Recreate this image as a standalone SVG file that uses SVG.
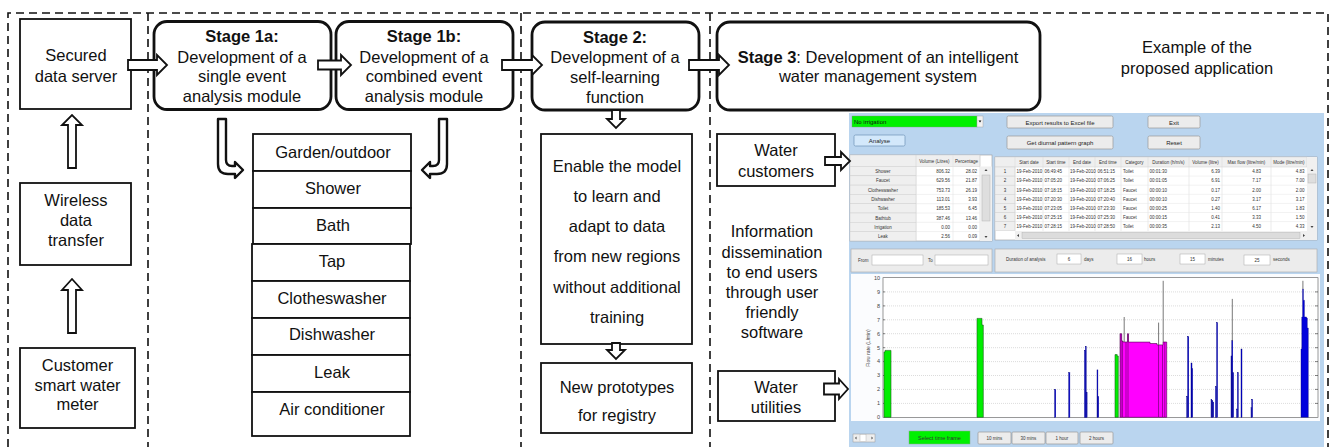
<svg xmlns="http://www.w3.org/2000/svg" width="1331" height="447" viewBox="0 0 1331 447">
<style>
.t{font-family:"Liberation Sans",Arial,sans-serif;font-size:16.5px;fill:#111;text-anchor:middle}
.b{font-weight:bold}
.box{fill:#fff;stroke:#111;stroke-width:1.8}
.stage{fill:#fff;stroke:#111;stroke-width:2.8}
.frame{fill:none;stroke:#111;stroke-width:1.6;stroke-dasharray:8 5}
.arr{fill:#fff;stroke:#111;stroke-width:1.8;stroke-linejoin:miter}
.bent{fill:#fff;stroke:#111;stroke-width:2.4;stroke-linejoin:round}
.s{font-family:"Liberation Sans",Arial,sans-serif;font-size:4.5px;fill:#333}
.sm{text-anchor:middle}
.se{text-anchor:end}
.btn{fill:#ececec;stroke:#9a9a9a;stroke-width:0.7}
.bt{font-family:"Liberation Sans",Arial,sans-serif;font-size:6px;fill:#222;text-anchor:middle}
.cell{fill:#fff;stroke:#dcdcdc;stroke-width:0.5}
.hcell{fill:#efefef;stroke:#cfcfcf;stroke-width:0.5}
.grid{stroke:#b8b8b8;stroke-width:0.5;stroke-dasharray:1 1}
.blue{fill:#0000dd;stroke:#00007a;stroke-width:0.4}
.green{fill:#00ee00;stroke:#1b5e1b;stroke-width:0.6}
.spike{stroke:#555;stroke-width:0.8}
</style>

<!-- dashed section frames -->
<g id="frames">
  <path class="frame" d="M8,447 V13 H1328 V447"/>
  <path class="frame" d="M148,13 V447"/>
  <path class="frame" d="M521,13 V447"/>
  <path class="frame" d="M710,13 V447"/>
</g>

<!-- data acquisition column -->
<g id="secured-data-server">
  <rect class="box" x="20" y="19" width="111" height="90"/>
  <text class="t" x="76" y="61">Secured</text>
  <text class="t" x="76" y="82">data server</text>
</g>
<g id="wireless-data-transfer">
  <rect class="box" x="20" y="183" width="111" height="82"/>
  <text class="t" x="76" y="206">Wireless</text>
  <text class="t" x="76" y="226">data</text>
  <text class="t" x="76" y="246">transfer</text>
</g>
<g id="customer-meter">
  <rect class="box" x="20" y="348" width="115" height="80"/>
  <text class="t" x="77.5" y="371">Customer</text>
  <text class="t" x="77.5" y="391">smart water</text>
  <text class="t" x="77.5" y="410">meter</text>
</g>

<!-- stage boxes -->
<g id="stage-1a">
  <rect class="stage" x="154" y="21.5" width="177" height="88" rx="13"/>
  <text class="t b" x="242" y="42">Stage 1a:</text>
  <text class="t" x="242" y="63">Development of a</text>
  <text class="t" x="242" y="82">single event</text>
  <text class="t" x="242" y="102">analysis module</text>
</g>
<g id="stage-1b">
  <rect class="stage" x="336" y="21.5" width="177" height="88" rx="13"/>
  <text class="t b" x="424" y="42">Stage 1b:</text>
  <text class="t" x="424" y="63">Development of a</text>
  <text class="t" x="424" y="82">combined event</text>
  <text class="t" x="424" y="102">analysis module</text>
</g>
<g id="stage-2">
  <rect class="stage" x="532" y="22" width="167" height="88" rx="13"/>
  <text class="t b" x="615" y="43">Stage 2:</text>
  <text class="t" x="615" y="63">Development of a</text>
  <text class="t" x="615" y="83">self-learning</text>
  <text class="t" x="615" y="103">function</text>
</g>
<g id="stage-3">
  <rect class="stage" x="717" y="22" width="323" height="88" rx="13"/>
  <text class="t" x="878" y="63"><tspan class="b">Stage 3</tspan>: Development of an intelligent</text>
  <text class="t" x="878" y="82">water management system</text>
</g>
<g id="example-caption">
  <text class="t" x="1197" y="53">Example of the</text>
  <text class="t" x="1197" y="74">proposed application</text>
</g>

<!-- end-use categories -->
<g id="end-use-categories">
  <rect class="box" x="253" y="134" width="158" height="37"/>
  <text class="t" x="333" y="158">Garden/outdoor</text>
  <rect class="box" x="253" y="171" width="158" height="37"/>
  <text class="t" x="333" y="194">Shower</text>
  <rect class="box" x="253" y="208" width="158" height="36"/>
  <text class="t" x="333" y="231">Bath</text>
  <rect class="box" x="252" y="244" width="158" height="37"/>
  <text class="t" x="332" y="267">Tap</text>
  <rect class="box" x="252" y="281" width="158" height="37"/>
  <text class="t" x="332" y="304">Clotheswasher</text>
  <rect class="box" x="252" y="318" width="158" height="37"/>
  <text class="t" x="332" y="340">Dishwasher</text>
  <rect class="box" x="252" y="355" width="158" height="37"/>
  <text class="t" x="332" y="378">Leak</text>
  <rect class="box" x="252" y="392" width="158" height="44"/>
  <text class="t" x="332" y="415">Air conditioner</text>
</g>

<!-- self-learning outputs -->
<g id="self-learning-box">
  <rect class="box" x="541" y="134" width="151" height="210"/>
  <text class="t" x="617" y="172">Enable the model</text>
  <text class="t" x="617" y="202">to learn and</text>
  <text class="t" x="617" y="232">adapt to data</text>
  <text class="t" x="617" y="262">from new regions</text>
  <text class="t" x="617" y="293">without additional</text>
  <text class="t" x="617" y="323">training</text>
</g>
<g id="new-prototypes">
  <rect class="box" x="541" y="363" width="151" height="70"/>
  <text class="t" x="617" y="393">New prototypes</text>
  <text class="t" x="617" y="421">for registry</text>
</g>

<!-- end users -->
<g id="water-customers">
  <rect class="box" x="717" y="134" width="118" height="52"/>
  <text class="t" x="776" y="156">Water</text>
  <text class="t" x="776" y="177">customers</text>
</g>
<g id="information-dissemination">
  <text class="t" x="772" y="237">Information</text>
  <text class="t" x="772" y="258">dissemination</text>
  <text class="t" x="772" y="278">to end users</text>
  <text class="t" x="772" y="298">through user</text>
  <text class="t" x="772" y="318">friendly</text>
  <text class="t" x="772" y="338">software</text>
</g>
<g id="water-utilities">
  <rect class="box" x="718" y="371" width="117" height="50"/>
  <text class="t" x="776" y="393">Water</text>
  <text class="t" x="776" y="413">utilities</text>
</g>

<!-- application window -->
<g id="app-screenshot">
  <rect x="849" y="113" width="475" height="334" fill="#bad5ef"/>
  <!-- top controls -->
  <rect x="852" y="116" width="125" height="11" fill="#00f000" stroke="#7a9a7a" stroke-width="0.4"/>
  <rect x="977" y="116" width="6" height="11" fill="#f2f2f2" stroke="#9a9a9a" stroke-width="0.4"/>
  <path d="M978.6,120.5 h2.8 l-1.4,2 z" fill="#111"/>
  <text x="854" y="124" font-family="Liberation Sans, Arial, sans-serif" font-size="6" fill="#111">No irrigation</text>
  <rect x="854" y="135" width="51" height="11" rx="1.5" fill="#d3e8fb" stroke="#6f93b8" stroke-width="0.7"/>
  <text class="bt" x="879.5" y="143">Analyse</text>
  <rect class="btn" x="1007" y="116" width="106" height="12" rx="1.5"/>
  <text class="bt" x="1060" y="124.5">Export results to Excel file</text>
  <rect class="btn" x="1007" y="136" width="106" height="13" rx="1.5"/>
  <text class="bt" x="1060" y="145">Get diurnal pattern graph</text>
  <rect class="btn" x="1148" y="116" width="52" height="12" rx="1.5"/>
  <text class="bt" x="1174" y="124.5">Exit</text>
  <rect class="btn" x="1148" y="136" width="52" height="13" rx="1.5"/>
  <text class="bt" x="1174" y="145">Reset</text>

  <!-- summary table -->
  <rect x="850" y="155" width="142" height="86" fill="#fff" stroke="#9a9a9a" stroke-width="0.6"/>
  <rect class="hcell" x="850" y="155" width="130" height="11.5"/>
  <line x1="916" y1="155" x2="916" y2="241" stroke="#cfcfcf" stroke-width="0.5"/>
  <line x1="953" y1="155" x2="953" y2="241" stroke="#dcdcdc" stroke-width="0.5"/>
  <line x1="980" y1="155" x2="980" y2="241" stroke="#cfcfcf" stroke-width="0.5"/>
  <text class="s sm" x="934.5" y="163">Volume (Litres)</text>
  <text class="s sm" x="966.5" y="163">Percentage</text>
  <g>
    <rect class="hcell" x="850" y="166.5" width="66" height="9.3"/>
    <rect class="hcell" x="850" y="175.8" width="66" height="9.3"/>
    <rect class="hcell" x="850" y="185.1" width="66" height="9.3"/>
    <rect class="hcell" x="850" y="194.4" width="66" height="9.3"/>
    <rect class="hcell" x="850" y="203.7" width="66" height="9.3"/>
    <rect class="hcell" x="850" y="213" width="66" height="9.3"/>
    <rect class="hcell" x="850" y="222.3" width="66" height="9.3"/>
    <rect class="hcell" x="850" y="231.6" width="66" height="9.3"/>
    <path d="M916,175.8 H980 M916,185.1 H980 M916,194.4 H980 M916,203.7 H980 M916,213 H980 M916,222.3 H980 M916,231.6 H980" stroke="#e2e2e2" stroke-width="0.5"/>
  </g>
  <g class="s">
    <text class="sm" x="883" y="173">Shower</text>
    <text class="sm" x="883" y="182.3">Faucet</text>
    <text class="sm" x="883" y="191.6">Clotheswasher</text>
    <text class="sm" x="883" y="200.9">Dishwasher</text>
    <text class="sm" x="883" y="210.2">Toilet</text>
    <text class="sm" x="883" y="219.5">Bathtub</text>
    <text class="sm" x="883" y="228.8">Irrigation</text>
    <text class="sm" x="883" y="238.1">Leak</text>
    <text class="se" x="950" y="173">806.32</text>
    <text class="se" x="950" y="182.3">629.56</text>
    <text class="se" x="950" y="191.6">753.73</text>
    <text class="se" x="950" y="200.9">113.01</text>
    <text class="se" x="950" y="210.2">185.53</text>
    <text class="se" x="950" y="219.5">387.46</text>
    <text class="se" x="950" y="228.8">0.00</text>
    <text class="se" x="950" y="238.1">2.56</text>
    <text class="se" x="977" y="173">28.02</text>
    <text class="se" x="977" y="182.3">21.87</text>
    <text class="se" x="977" y="191.6">26.19</text>
    <text class="se" x="977" y="200.9">3.93</text>
    <text class="se" x="977" y="210.2">6.45</text>
    <text class="se" x="977" y="219.5">13.46</text>
    <text class="se" x="977" y="228.8">0.00</text>
    <text class="se" x="977" y="238.1">0.09</text>
  </g>
  <rect x="980" y="166.5" width="12" height="74.5" fill="#f0f0f0"/>
  <rect x="982" y="175" width="8" height="46" fill="#dedede" stroke="#ababab" stroke-width="0.4"/>
  <path d="M984.5,171 h3 l-1.5,-2 z M984.5,236 h3 l-1.5,2 z" fill="#444"/>

  <!-- event table -->
  <rect x="995" y="157" width="322" height="83" fill="#fff" stroke="#9a9a9a" stroke-width="0.6"/>
  <rect class="hcell" x="995" y="157" width="312" height="10"/>
  <rect class="hcell" x="995" y="167" width="20" height="9.1"/>
  <rect class="hcell" x="995" y="176.1" width="20" height="9.1"/>
  <rect class="hcell" x="995" y="185.2" width="20" height="9.1"/>
  <rect class="hcell" x="995" y="194.3" width="20" height="9.1"/>
  <rect class="hcell" x="995" y="203.4" width="20" height="9.1"/>
  <rect class="hcell" x="995" y="212.5" width="20" height="9.1"/>
  <rect class="hcell" x="995" y="221.6" width="20" height="9.1"/>
  <path d="M1043,157 V231 M1069,157 V231 M1095,157 V231 M1121,157 V231 M1148,157 V231 M1189,157 V231 M1222,157 V231 M1271,157 V231 M1015,157 V231" stroke="#d6d6d6" stroke-width="0.5"/>
  <path d="M1015,176.1 H1307 M1015,185.2 H1307 M1015,194.3 H1307 M1015,203.4 H1307 M1015,212.5 H1307 M1015,221.6 H1307" stroke="#e4e4e4" stroke-width="0.5"/>
  <g class="s">
    <text class="sm" x="1029" y="164">Start date</text>
    <text class="sm" x="1056" y="164">Start time</text>
    <text class="sm" x="1082" y="164">End date</text>
    <text class="sm" x="1108" y="164">End time</text>
    <text class="sm" x="1134.5" y="164">Category</text>
    <text class="sm" x="1168.5" y="164">Duration (h/m/s)</text>
    <text class="sm" x="1205.5" y="164">Volume (litre)</text>
    <text class="sm" x="1246.5" y="164">Max flow (litre/min)</text>
    <text class="sm" x="1289" y="164">Mode (litre/min)</text>
    <text class="sm" x="1005" y="173.3">1</text>
    <text class="sm" x="1005" y="182.4">2</text>
    <text class="sm" x="1005" y="191.5">3</text>
    <text class="sm" x="1005" y="200.6">4</text>
    <text class="sm" x="1005" y="209.7">5</text>
    <text class="sm" x="1005" y="218.8">6</text>
    <text class="sm" x="1005" y="227.9">7</text>
    <text x="1016.5" y="173.3">19-Feb-2010</text>
    <text x="1016.5" y="182.4">19-Feb-2010</text>
    <text x="1016.5" y="191.5">19-Feb-2010</text>
    <text x="1016.5" y="200.6">19-Feb-2010</text>
    <text x="1016.5" y="209.7">19-Feb-2010</text>
    <text x="1016.5" y="218.8">19-Feb-2010</text>
    <text x="1016.5" y="227.9">19-Feb-2010</text>
    <text x="1044.5" y="173.3">06:49:45</text>
    <text x="1044.5" y="182.4">07:05:20</text>
    <text x="1044.5" y="191.5">07:18:15</text>
    <text x="1044.5" y="200.6">07:20:30</text>
    <text x="1044.5" y="209.7">07:23:05</text>
    <text x="1044.5" y="218.8">07:25:15</text>
    <text x="1044.5" y="227.9">07:28:15</text>
    <text x="1070" y="173.3">19-Feb-2010</text>
    <text x="1070" y="182.4">19-Feb-2010</text>
    <text x="1070" y="191.5">19-Feb-2010</text>
    <text x="1070" y="200.6">19-Feb-2010</text>
    <text x="1070" y="209.7">19-Feb-2010</text>
    <text x="1070" y="218.8">19-Feb-2010</text>
    <text x="1070" y="227.9">19-Feb-2010</text>
    <text x="1097.5" y="173.3">06:51:15</text>
    <text x="1097.5" y="182.4">07:06:25</text>
    <text x="1097.5" y="191.5">07:18:25</text>
    <text x="1097.5" y="200.6">07:20:40</text>
    <text x="1097.5" y="209.7">07:23:30</text>
    <text x="1097.5" y="218.8">07:25:30</text>
    <text x="1097.5" y="227.9">07:28:50</text>
    <text x="1123" y="173.3">Toilet</text>
    <text x="1123" y="182.4">Toilet</text>
    <text x="1123" y="191.5">Faucet</text>
    <text x="1123" y="200.6">Faucet</text>
    <text x="1123" y="209.7">Faucet</text>
    <text x="1123" y="218.8">Faucet</text>
    <text x="1123" y="227.9">Toilet</text>
    <text x="1149.5" y="173.3">00:01:30</text>
    <text x="1149.5" y="182.4">00:01:05</text>
    <text x="1149.5" y="191.5">00:00:10</text>
    <text x="1149.5" y="200.6">00:00:10</text>
    <text x="1149.5" y="209.7">00:00:25</text>
    <text x="1149.5" y="218.8">00:00:15</text>
    <text x="1149.5" y="227.9">00:00:35</text>
    <text class="se" x="1220" y="173.3">6.39</text>
    <text class="se" x="1220" y="182.4">6.91</text>
    <text class="se" x="1220" y="191.5">0.17</text>
    <text class="se" x="1220" y="200.6">0.27</text>
    <text class="se" x="1220" y="209.7">1.40</text>
    <text class="se" x="1220" y="218.8">0.41</text>
    <text class="se" x="1220" y="227.9">2.13</text>
    <text class="se" x="1261" y="173.3">4.83</text>
    <text class="se" x="1261" y="182.4">7.17</text>
    <text class="se" x="1261" y="191.5">2.00</text>
    <text class="se" x="1261" y="200.6">3.17</text>
    <text class="se" x="1261" y="209.7">6.17</text>
    <text class="se" x="1261" y="218.8">3.33</text>
    <text class="se" x="1261" y="227.9">4.50</text>
    <text class="se" x="1304.5" y="173.3">4.83</text>
    <text class="se" x="1304.5" y="182.4">7.00</text>
    <text class="se" x="1304.5" y="191.5">2.00</text>
    <text class="se" x="1304.5" y="200.6">3.17</text>
    <text class="se" x="1304.5" y="209.7">1.83</text>
    <text class="se" x="1304.5" y="218.8">1.50</text>
    <text class="se" x="1304.5" y="227.9">4.33</text>
  </g>
  <rect x="1307" y="157" width="10" height="83" fill="#f0f0f0"/>
  <rect x="1308" y="174" width="8" height="9" fill="#dedede" stroke="#ababab" stroke-width="0.4"/>
  <path d="M1310.5,171 h3 l-1.5,-2 z M1310.5,226 h3 l-1.5,2 z" fill="#444"/>
  <rect x="1015" y="231" width="292" height="9" fill="#f0f0f0"/>
  <rect x="1022" y="232.5" width="278" height="6" fill="#dcdcdc" stroke="#ababab" stroke-width="0.4"/>
  <path d="M1019,234 v3 l-2,-1.5 z M1303,234 v3 l2,-1.5 z" fill="#444"/>

  <!-- analysis period panels -->
  <rect x="851" y="249" width="141" height="23" fill="#ececec" stroke="#a8a8a8" stroke-width="0.6"/>
  <text class="s" x="858" y="262">From</text>
  <rect x="872" y="255" width="51" height="10" fill="#fff" stroke="#a8a8a8" stroke-width="0.5"/>
  <text class="s" x="928" y="262">To</text>
  <rect x="935" y="255" width="53" height="10" fill="#fff" stroke="#a8a8a8" stroke-width="0.5"/>
  <rect x="995" y="249" width="322" height="23" fill="#ececec" stroke="#a8a8a8" stroke-width="0.6"/>
  <text class="s" x="1006" y="260.5">Duration of analysis</text>
  <rect x="1057" y="254" width="24" height="10" fill="#fff" stroke="#a8a8a8" stroke-width="0.5"/>
  <text class="s sm" x="1069" y="261">6</text>
  <text class="s" x="1084" y="260.5">days</text>
  <rect x="1117" y="254" width="25" height="10" fill="#fff" stroke="#a8a8a8" stroke-width="0.5"/>
  <text class="s sm" x="1129.5" y="261">16</text>
  <text class="s" x="1144" y="260.5">hours</text>
  <rect x="1180" y="254" width="25" height="10" fill="#fff" stroke="#a8a8a8" stroke-width="0.5"/>
  <text class="s sm" x="1192.5" y="261">15</text>
  <text class="s" x="1208" y="260.5">minutes</text>
  <rect x="1244" y="255" width="26" height="10" fill="#fff" stroke="#a8a8a8" stroke-width="0.5"/>
  <text class="s sm" x="1257" y="262">25</text>
  <text class="s" x="1273" y="261">seconds</text>

  <!-- flow trace chart -->
  <rect x="851" y="274" width="469" height="147" fill="#fbfcfe"/>
  <rect x="883" y="277.7" width="435" height="139.6" fill="#fff" stroke="#555" stroke-width="0.6"/>
  <g>
    <line class="grid" x1="883" y1="403.4" x2="1318" y2="403.4"/>
    <line class="grid" x1="883" y1="389.4" x2="1318" y2="389.4"/>
    <line class="grid" x1="883" y1="375.5" x2="1318" y2="375.5"/>
    <line class="grid" x1="883" y1="361.6" x2="1318" y2="361.6"/>
    <line class="grid" x1="883" y1="347.7" x2="1318" y2="347.7"/>
    <line class="grid" x1="883" y1="333.7" x2="1318" y2="333.7"/>
    <line class="grid" x1="883" y1="319.8" x2="1318" y2="319.8"/>
    <line class="grid" x1="883" y1="305.9" x2="1318" y2="305.9"/>
    <line class="grid" x1="883" y1="291.9" x2="1318" y2="291.9"/>
    <path d="M1315,403.4 h3 M1315,389.4 h3 M1315,375.5 h3 M1315,361.6 h3 M1315,347.7 h3 M1315,333.7 h3 M1315,319.8 h3 M1315,305.9 h3 M1315,291.9 h3 M883,403.4 h2 M883,389.4 h2 M883,375.5 h2 M883,361.6 h2 M883,347.7 h2 M883,333.7 h2 M883,319.8 h2 M883,305.9 h2 M883,291.9 h2" stroke="#333" stroke-width="0.6"/>
  </g>
  <g font-family="Liberation Sans, Arial, sans-serif" font-size="5.5" fill="#444" text-anchor="end">
    <text x="880" y="419">0</text>
    <text x="880" y="405.2">1</text>
    <text x="880" y="391.2">2</text>
    <text x="880" y="377.3">3</text>
    <text x="880" y="363.4">4</text>
    <text x="880" y="349.5">5</text>
    <text x="880" y="335.5">6</text>
    <text x="880" y="321.6">7</text>
    <text x="880" y="307.7">8</text>
    <text x="880" y="293.7">9</text>
    <text x="880" y="279.8">10</text>
  </g>
  <text transform="translate(869.5,348) rotate(-90)" font-family="Liberation Sans, Arial, sans-serif" font-size="5" fill="#444" text-anchor="middle">Flow rate (L/min)</text>

  <!-- flow events -->
  <path class="green" d="M884,417.3 V352 H885 V350.4 H891 V417.3 Z"/>
  <path class="green" d="M977,417.3 V318.4 H982 V325 H983.3 V417.3 Z"/>
  <path class="green" d="M1115,417.3 V354.6 H1117.2 V356 H1118.3 V417.3 Z"/>
  <path d="M1120,417.3 V333.7 H1121.7 V341 H1123 V342 H1127.5 V333.7 H1128.5 V342.1 H1150 V343.5 H1157 V344.9 H1163 V342 H1166.7 V417.3 Z" fill="#ff00ff" stroke="#4d004d" stroke-width="0.6"/>
  <path d="M1121,417 V334 M1122.4,417 V341 M1126,417 V342 M1128,417 V334 M1158.5,417 V345 M1162.5,417 V345 M1164.8,417 V342" stroke="#5a005a" stroke-width="0.6"/>
  <path class="spike" d="M1124.2,342 V317 M1158.6,345 V322.6 M1163.2,342 V280.8"/>
  <g>
    <rect class="blue" x="1054.6" y="389.4" width="1.2" height="27.9"/>
    <rect class="blue" x="1068.7" y="372.7" width="1.2" height="44.6"/>
    <rect class="blue" x="1084.5" y="350.4" width="1" height="66.9"/>
    <rect class="blue" x="1085.4" y="346.3" width="0.8" height="71"/>
    <rect class="blue" x="1086.3" y="392.2" width="0.8" height="25.1"/>
    <rect class="blue" x="1097" y="369.9" width="0.9" height="47.4"/>
    <rect class="blue" x="1097.9" y="396.4" width="0.8" height="20.9"/>
    <rect class="blue" x="1186.7" y="396.4" width="0.8" height="20.9"/>
    <rect class="blue" x="1187.6" y="336.5" width="1.2" height="80.8"/>
    <rect class="blue" x="1191" y="363" width="1" height="54.3"/>
    <rect class="blue" x="1191.9" y="368.5" width="0.7" height="48.8"/>
    <rect class="blue" x="1211" y="399.2" width="0.8" height="18.1"/>
    <rect class="blue" x="1212" y="400.6" width="0.8" height="16.7"/>
    <rect class="blue" x="1213" y="402" width="0.7" height="15.3"/>
    <rect class="blue" x="1215.5" y="386.7" width="0.8" height="30.6"/>
    <rect class="blue" x="1216.6" y="322.6" width="1" height="94.7"/>
    <rect class="blue" x="1231" y="356" width="0.8" height="61.3"/>
    <rect class="blue" x="1231.8" y="340.7" width="1" height="76.6"/>
    <rect class="blue" x="1232.8" y="372.7" width="0.8" height="44.6"/>
    <rect class="blue" x="1236.6" y="409" width="0.7" height="8.3"/>
    <rect class="blue" x="1237.4" y="372.7" width="0.9" height="44.6"/>
    <rect class="blue" x="1241" y="349" width="1" height="68.3"/>
    <rect class="blue" x="1251" y="407.5" width="0.7" height="9.8"/>
    <rect class="blue" x="1251.7" y="399.2" width="0.9" height="18.1"/>
    <path class="blue" d="M1301,417.3 V349 H1301.8 V317 H1302.6 V289.1 H1303.4 V300.3 H1304.4 V317 H1306.5 V318 H1307.3 V328 H1308.3 V417.3 Z"/>
  </g>
  <path class="spike" d="M1232.3,340.7 V298.9 M1302.9,289.1 V280.8"/>

  <!-- time frame controls -->
  <rect x="853" y="434" width="22" height="8" fill="#eee" stroke="#999" stroke-width="0.5"/>
  <rect x="860" y="434.5" width="6" height="7" fill="#fff" stroke="#aaa" stroke-width="0.4"/>
  <path d="M856.5,436.5 v3 l-1.5,-1.5 z M871.5,436.5 v3 l1.5,-1.5 z" fill="#444"/>
  <rect x="909" y="431" width="61" height="13" fill="#00f000" stroke="#8aa88a" stroke-width="0.5"/>
  <text x="939.5" y="439.5" font-family="Liberation Sans, Arial, sans-serif" font-size="5.5" fill="#333" text-anchor="middle">Select time frame</text>
  <rect class="btn" x="978" y="432" width="33" height="12" rx="1"/>
  <text class="s sm" x="994.5" y="440">10 mins</text>
  <rect class="btn" x="1012" y="432" width="33" height="12" rx="1"/>
  <text class="s sm" x="1028.5" y="440">30 mins</text>
  <rect class="btn" x="1046" y="432" width="32" height="12" rx="1"/>
  <text class="s sm" x="1062" y="440">1 hour</text>
  <rect class="btn" x="1080" y="432" width="33" height="12" rx="1"/>
  <text class="s sm" x="1096.5" y="440">2 hours</text>
</g>

<!-- connectors -->
<g id="connectors">
  <path class="arr" d="M68,168 V125 H62 L72,115 L82,125 H76 V168 Z"/>
  <path class="arr" d="M68,333 V290 H62 L72,279 L82,290 H76 V333 Z"/>
  <path class="arr" d="M128,60 H157 V55 L167,65 L157,75 V70 H128 Z"/>
  <path class="arr" d="M318,60.5 H341 V55 L351,65 L341,75 V69.5 H318 Z"/>
  <path class="arr" d="M502,60 H532 V55 L542,65 L532,75 V70 H502 Z"/>
  <path class="arr" d="M689,60 H719 V55 L729,65 L719,75 V70 H689 Z"/>
  <path class="bent" d="M218,119 H226 V160 Q226,166 232,166 H235 V162 L243,170 L235,178 V174 H228 Q218,174 218,164 Z"/>
  <path class="bent" d="M447,119 H439 V160 Q439,166 433,166 H430 V162 L422,170 L430,178 V174 H437 Q447,174 447,164 Z"/>
  <path class="arr" d="M612,110 V119 H607 L616,128 L625,119 H620 V110 Z"/>
  <path class="arr" d="M612,343 V350 H607 L616,359 L625,350 H620 V343 Z"/>
  <path class="arr" d="M825,157 H841 V152 L850,161 L841,170 V165 H825 Z"/>
  <path class="arr" d="M824,383.5 H839 V379 L848,389 L839,399 V394.5 H824 Z"/>
</g>
</svg>
